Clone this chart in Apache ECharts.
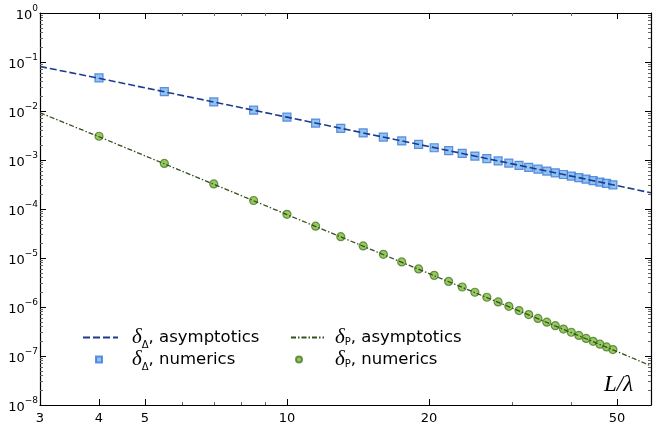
<!DOCTYPE html>
<html>
<head>
<meta charset="utf-8">
<script src="https://cdn.jsdelivr.net/npm/echarts@6/dist/echarts.min.js"></script>
<style>
  html, body { margin: 0; padding: 0; background: #fff; }
  #chart { width: 654px; height: 426px; }
</style>
</head>
<body>
<div id="chart"></div>
<script>
// L/lambda values of the numerical points
var numX = [4, 5.5, 7, 8.5, 10, 11.5, 13, 14.5, 16, 17.5, 19, 20.5, 22, 23.5, 25, 26.5,
  28, 29.5, 31, 32.5, 34, 35.5, 37, 38.5, 40, 41.5, 43, 44.5, 46, 47.5, 49]
// delta_Delta, numerics
var deltaDNum = [0.0475, 0.0249, 0.0153, 0.0104, 0.0075, 0.00567, 0.00444, 0.00357, 0.00293,
  0.00245, 0.00208, 0.00178, 0.00155, 0.00136, 0.0012, 0.00107, 0.000957, 0.000862, 0.00078,
  0.00071, 0.000649, 0.000595, 0.000548, 0.000506, 0.000469, 0.000435, 0.000406, 0.000379,
  0.000354, 0.000332, 0.000312]
// delta_P, numerics
var deltaPNum = [0.00305, 0.000852, 0.000325, 0.000149, 7.8e-5, 4.46e-5, 2.73e-5, 1.76e-5,
  1.19e-5, 8.32e-6, 5.99e-6, 4.42e-6, 3.33e-6, 2.56e-6, 2.0e-6, 1.58e-6, 1.27e-6, 1.03e-6,
  8.45e-7, 6.99e-7, 5.84e-7, 4.91e-7, 4.16e-7, 3.55e-7, 3.05e-7, 2.63e-7, 2.28e-7, 1.99e-7,
  1.74e-7, 1.53e-7, 1.35e-7]
// asymptotic curves
var asymX = [3, 4, 10, 20, 30, 40, 50, 59]
var deltaDAsym = [0.081, 0.0465, 0.0075, 0.00188, 0.000833, 0.000469, 0.0003, 0.000214]
var deltaPAsym = [0.0092, 0.00298, 7.7e-5, 4.8e-6, 9.5e-7, 3.0e-7, 1.23e-7, 6.3e-8]

// ticks
var xMajorTicks = [3, 4, 5, 10, 20, 50]
var xMinorTicks = [6, 7, 8, 9, 30, 40]
var yMajorTicks = [1e-8, 1e-7, 1e-6, 1e-5, 1e-4, 1e-3, 1e-2, 1e-1, 1]

var yMinorTicks = []
yMajorTicks.slice(0, -1).forEach(function (d) {
  for (var k = 2; k <= 9; k++) yMinorTicks.push(d * k)
})

function pairs(xs, ys) {
  return xs.map(function (x, i) { return [x, ys[i]] })
}

var SANS = 'DejaVu Sans'
var SERIF = 'Liberation Serif'

function xAxisOf(grid, pos, ticks, len, labels) {
  return {
    gridIndex: grid,
    type: 'log',
    logBase: 10,
    min: 3,
    max: 59,
    position: pos,
    splitLine: { show: false },
    axisLine: { show: grid === 0, onZero: false, lineStyle: { color: '#000', width: 1.2 } },
    axisTick: { show: true, inside: true, length: len, customValues: ticks,
      lineStyle: { color: len > 4 ? '#000' : '#666', width: 1 } },
    axisLabel: labels ? { show: true, customValues: labels, margin: 7,
      color: '#000', fontFamily: SANS, fontSize: 13 } : { show: false }
  }
}

function yAxisOf(grid, pos, ticks, len, labels) {
  return {
    gridIndex: grid,
    type: 'log',
    logBase: 10,
    min: 1e-8,
    max: 1,
    position: pos,
    splitLine: { show: false },
    axisLine: { show: grid === 0, onZero: false, lineStyle: { color: '#000', width: 1.2 } },
    axisTick: { show: true, inside: true, length: len, customValues: ticks,
      lineStyle: { color: len > 4 ? '#000' : '#666', width: 1 } },
    axisLabel: labels ? {
      show: true, customValues: labels, margin: 2,
      formatter: function (v) {
        var e = Math.round(Math.log10(v))
        return '{b|10}{s|' + (e < 0 ? '\u2212' + (-e) : e) + '}'
      },
      rich: {
        b: { fontFamily: SANS, fontSize: 13, color: '#000', verticalAlign: 'bottom', lineHeight: 18 },
        s: { fontFamily: SANS, fontSize: 9, color: '#000', verticalAlign: 'top', lineHeight: 18 }
      }
    } : { show: false }
  }
}

var legendText = {
  'δΔ, asymptotics': '{sp|}{d|δ}{sub|Δ}{t|, asymptotics}',
  'δΔ, numerics': '{sp|}{d|δ}{sub|Δ}{t|, numerics}',
  'δP, asymptotics': '{sp|}{d|δ}{subp|P}{t|, asymptotics}',
  'δP, numerics': '{sp|}{d|δ}{subp|P}{t|, numerics}'
}

// one legend per entry so line icons and marker icons can have their own size
function legendOf(left, top, name, w, spacer, hideSymbol) {
  return {
    left: left,
    top: top,
    itemWidth: w,
    itemHeight: 6,
    selectedMode: false,
    data: [hideSymbol ? { name: name, itemStyle: { opacity: 0 } } : name],
    formatter: function (n) { return legendText[n] },
    textStyle: {
      rich: {
        sp: { width: spacer },
        d: { fontFamily: SERIF, fontStyle: 'italic', fontSize: 21, color: '#000', lineHeight: 20 },
        sub: { fontFamily: SANS, fontSize: 10, color: '#000', lineHeight: 20, verticalAlign: 'bottom', padding: [0, 0, -3, 0] },
        subp: { fontFamily: SANS, fontSize: 10, color: '#000', lineHeight: 20, verticalAlign: 'bottom' },
        t: { fontFamily: SANS, fontSize: 16.5, color: '#000', lineHeight: 20 }
      }
    }
  }
}

var chart = echarts.init(document.getElementById('chart'))
chart.setOption({
  backgroundColor: '#fff',
  animation: false,
  grid: [
    { left: 40, right: 3, top: 13, bottom: 21, containLabel: false },
    { left: 40, right: 3, top: 13, bottom: 21, containLabel: false }
  ],
  xAxis: [
    xAxisOf(0, 'bottom', xMajorTicks, 6, xMajorTicks),
    xAxisOf(0, 'top', xMajorTicks, 6, null),
    xAxisOf(1, 'bottom', xMinorTicks, 3, null),
    xAxisOf(1, 'top', xMinorTicks, 3, null)
  ],
  yAxis: [
    yAxisOf(0, 'left', yMajorTicks, 6, yMajorTicks),
    yAxisOf(0, 'right', yMajorTicks, 6, null),
    yAxisOf(1, 'left', yMinorTicks, 3, null),
    yAxisOf(1, 'right', yMinorTicks, 3, null)
  ],
  legend: [
    legendOf(77, 322, 'δΔ, asymptotics', 35, 9, true),
    legendOf(90, 344, 'δΔ, numerics', 6, 25, false),
    legendOf(285, 322, 'δP, asymptotics', 33, 6, true),
    legendOf(290, 344, 'δP, numerics', 6, 28, false)
  ],
  graphic: [{
    type: 'text',
    left: 604,
    top: 373,
    style: { text: 'L/λ', fontFamily: SERIF, fontStyle: 'italic', fontSize: 23, fill: '#000' }
  }],
  series: [
    {
      name: 'δΔ, numerics',
      type: 'scatter',
      symbol: 'rect',
      symbolSize: 8,
      z: 2,
      itemStyle: { color: '#74b4ef', borderColor: '#3b78d6', borderWidth: 1.2 },
      data: pairs(numX, deltaDNum)
    },
    {
      name: 'δP, numerics',
      type: 'scatter',
      symbol: 'circle',
      symbolSize: 8,
      z: 2,
      itemStyle: { color: '#7dbb3c', borderColor: '#4b7a26', borderWidth: 1.2 },
      data: pairs(numX, deltaPNum)
    },
    {
      name: 'δΔ, asymptotics',
      type: 'line',
      symbol: 'none',
      z: 3,
      lineStyle: { color: '#1f3a8c', width: 1.6, type: [7, 3] },
      itemStyle: { color: '#1f3a8c' },
      data: pairs(asymX, deltaDAsym)
    },
    {
      name: 'δP, asymptotics',
      type: 'line',
      symbol: 'none',
      z: 3,
      lineStyle: { color: '#34501c', width: 1.3, type: [5, 2, 1.5, 2] },
      itemStyle: { color: '#34501c' },
      data: pairs(asymX, deltaPAsym)
    }
  ]
})
</script>
</body>
</html>
